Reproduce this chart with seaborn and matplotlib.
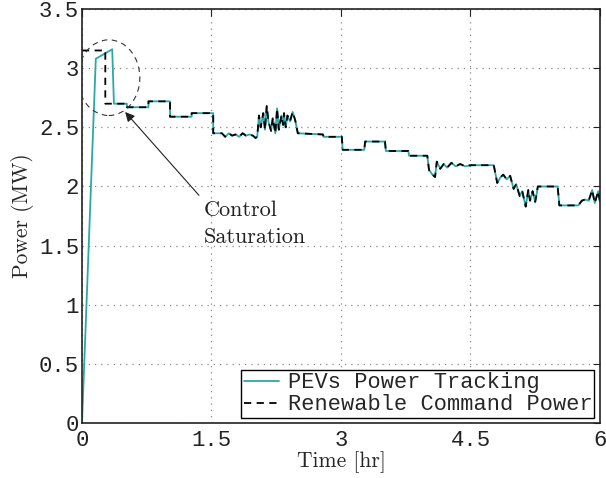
import numpy as np
import pandas as pd
import seaborn as sns
import matplotlib.pyplot as plt
from matplotlib.patches import Ellipse

# Renewable command power (MW) vs time (hr)
t_cmd = [0.0, 0.27, 0.27, 0.52, 0.52, 0.77, 0.77, 1.02, 1.02, 1.27, 1.27, 1.52, 1.52,
         1.62, 1.66, 1.70, 1.74, 1.78, 1.82, 1.86, 1.90, 1.94, 1.98, 2.01, 2.03,
         2.05, 2.07, 2.10, 2.12, 2.14, 2.16, 2.19, 2.21, 2.24, 2.26, 2.28, 2.31, 2.33,
         2.34, 2.36, 2.38, 2.41, 2.44, 2.47, 2.50, 2.79, 2.80, 3.01, 3.02, 3.27, 3.28,
         3.51, 3.52, 3.78, 3.79, 4.00, 4.02, 4.06, 4.09, 4.11, 4.15, 4.19, 4.23, 4.28,
         4.33, 4.38, 4.44, 4.50, 4.77, 4.81, 4.85, 4.88, 4.92, 4.96, 5.00, 5.03, 5.07,
         5.10, 5.14, 5.17, 5.19, 5.22, 5.25, 5.27, 5.28, 5.51, 5.53, 5.75, 5.79, 5.83,
         5.87, 5.91, 5.94, 5.98, 6.0]
p_cmd = [3.15, 3.15, 2.70, 2.70, 2.67, 2.67, 2.72, 2.72, 2.59, 2.59, 2.62, 2.62, 2.45,
         2.45, 2.42, 2.45, 2.43, 2.44, 2.42, 2.45, 2.43, 2.44, 2.43, 2.41, 2.42,
         2.60, 2.50, 2.62, 2.48, 2.68, 2.55, 2.47, 2.58, 2.45, 2.66, 2.48, 2.60, 2.52,
         2.62, 2.50, 2.60, 2.55, 2.63, 2.56, 2.45, 2.44, 2.42, 2.42, 2.31, 2.31, 2.38,
         2.38, 2.30, 2.30, 2.26, 2.26, 2.14, 2.10, 2.08, 2.21, 2.15, 2.19, 2.16, 2.20,
         2.17, 2.19, 2.17, 2.18, 2.18, 2.03, 2.08, 2.10, 2.06, 2.09, 1.98, 2.02, 1.92,
         1.96, 1.83, 1.97, 1.88, 1.96, 1.87, 1.95, 2.00, 2.00, 1.84, 1.84, 1.88, 1.89,
         1.88, 1.97, 1.86, 1.96, 1.87]

# PEVs tracking: ramps up at the start, then follows the command
t_ramp = [0.0, 0.16, 0.35, 0.37]
p_ramp = [0.0, 3.08, 3.16, 2.70]

teal = '#2aa8a8'
mono = 'Liberation Mono'
cm = 'cmr10'

sns.set_style('white')
plt.rcParams['xtick.direction'] = 'in'
plt.rcParams['ytick.direction'] = 'in'

cmd = pd.DataFrame({'t': t_cmd, 'p': p_cmd})
after = cmd[cmd['t'] > 0.37]
track = pd.DataFrame({'t': t_ramp + list(after['t']), 'p': p_ramp + list(after['p'])})

fig = plt.figure(figsize=(6.06, 4.78), dpi=100)
ax = fig.add_axes([0.1353, 0.115, 0.8547, 0.866])

sns.lineplot(data=track, x='t', y='p', sort=False, estimator=None, color=teal, lw=1.3,
             label='PEVs Power Tracking', ax=ax)
sns.lineplot(data=cmd, x='t', y='p', sort=False, estimator=None, color='black', lw=1.3,
             linestyle=(0, (4, 3)), label='Renewable Command Power', ax=ax)

ax.set_xlim(0, 6)
ax.set_ylim(0, 3.5)
ax.set_xticks([0, 1.5, 3, 4.5, 6])
ax.set_xticklabels(['0', '1.5', '3', '4.5', '6'])
ax.set_yticks(np.arange(0, 3.51, 0.5))
ax.set_yticklabels(['0', '0.5', '1', '1.5', '2', '2.5', '3', '3.5'])
for lab in ax.get_xticklabels() + ax.get_yticklabels():
    lab.set_fontfamily(mono)
    lab.set_fontsize(16)
    lab.set_color('#333333')
ax.tick_params(length=5, width=0.8, colors='#222222', pad=2, right=True, top=True)
ax.tick_params(axis='x', pad=5)
for s in ax.spines.values():
    s.set_color('#222222')
    s.set_linewidth(1.2)
ax.grid(True, linestyle=(0, (1, 4)), color='#888888', lw=0.9)

ax.set_xlabel('Time [hr]', fontfamily=cm, fontsize=15.5, labelpad=0)
ax.set_ylabel('Power (MW)', fontfamily=cm, fontsize=15.5, labelpad=4)

# saturation circle + arrow
ax.add_patch(Ellipse((0.31, 2.92), 0.72, 0.64, fill=False, ls=(0, (5, 4)), lw=0.8,
                     ec='#333333', zorder=5))
ax.annotate('Control\nSaturation', xy=(0.50, 2.63), xytext=(1.41, 1.88),
            fontfamily=cm, fontsize=16, va='top', ha='left', linespacing=1.5,
            color='#222222',
            arrowprops=dict(arrowstyle='-|>', color='#222222', lw=0.8, relpos=(0, 1),
                            mutation_scale=14, shrinkA=2, shrinkB=0))

leg = ax.legend(loc='lower right', prop={'family': mono, 'size': 15.8}, frameon=True,
                fancybox=False, framealpha=1, edgecolor='black', borderpad=0.1,
                labelspacing=0.05, handlelength=1.6, handletextpad=0.4,
                borderaxespad=0.25)
leg.get_frame().set_linewidth(1.0)

fig.savefig('out.png', dpi=100)
